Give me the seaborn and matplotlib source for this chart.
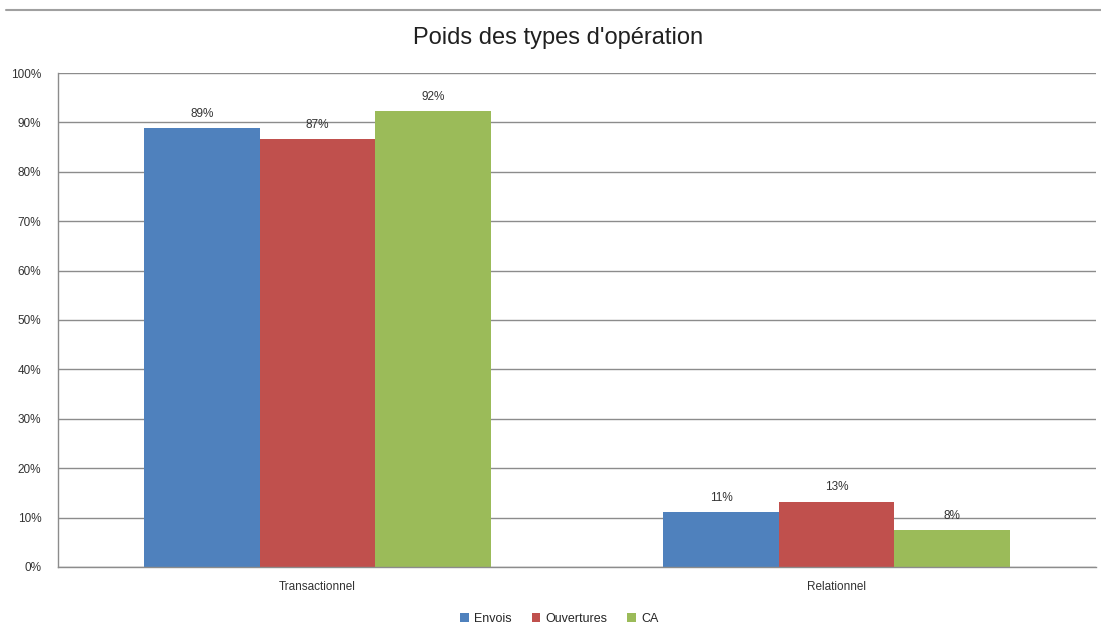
import pandas as pd
import numpy as np
import matplotlib.pyplot as plt
import matplotlib.lines as mlines
from matplotlib.ticker import PercentFormatter
import seaborn as sns

# Data
categories = ["Transactionnel", "Relationnel"]
series = ["Envois", "Ouvertures", "CA"]
envois = [0.889, 0.111]
ouvertures = [0.866, 0.132]
ca = [0.923, 0.075]
colors = ["#4F81BD", "#C0504D", "#9BBB59"]

df = pd.DataFrame({
    "type": categories * 3,
    "serie": np.repeat(series, len(categories)),
    "valeur": envois + ouvertures + ca,
})

sns.set_style("white")
plt.rcParams["font.family"] = ["Liberation Sans", "DejaVu Sans"]

fig = plt.figure(figsize=(11.01, 6.37), dpi=100)
ax = fig.add_axes([0.0527, 0.1099, 0.9428, 0.7755])

sns.barplot(data=df, x="type", y="valeur", hue="serie", order=categories,
            hue_order=series, palette=colors, width=0.667, saturation=1,
            edgecolor="none", linewidth=0, errorbar=None, ax=ax)

# data labels
for cont in ax.containers:
    for bar in cont:
        h = bar.get_height()
        ax.annotate(f"{h * 100:.0f}%", (bar.get_x() + bar.get_width() / 2, h),
                    xytext=(0, 6), textcoords="offset points",
                    ha="center", va="bottom", fontsize=8.5, color="#333333")

ax.set_ylim(0, 1.0)
ax.set_xlim(-0.5, 1.5)
ax.set_yticks(np.arange(0, 1.01, 0.1))
ax.yaxis.set_major_formatter(PercentFormatter(1.0, decimals=0))
ax.grid(axis="y", color="#8C8C8C", linewidth=1)
ax.set_axisbelow(True)
ax.tick_params(axis="both", length=0, labelsize=8.5, colors="#333333")
ax.tick_params(axis="y", pad=12)
ax.tick_params(axis="x", pad=10)
ax.set_xlabel("")
ax.set_ylabel("")
for side in ["top", "right"]:
    ax.spines[side].set_visible(False)
for side in ["left", "bottom"]:
    ax.spines[side].set_color("#8C8C8C")
    ax.spines[side].set_linewidth(1)

fig.suptitle("Poids des types d'opération", x=0.507, y=0.94, va="center",
             fontsize=17, color="#202020")

ax.legend(loc="upper center", bbox_to_anchor=(0.483, -0.07), ncol=3,
          frameon=False, fontsize=9, handlelength=0.7, handleheight=0.7,
          handletextpad=0.4, columnspacing=1.6)

# chart border line at the top
fig.add_artist(mlines.Line2D([0.005, 1.0], [0.984, 0.984], color="#A0A0A0",
                             linewidth=1.5, transform=fig.transFigure))

fig.savefig("out.png", dpi=100)
